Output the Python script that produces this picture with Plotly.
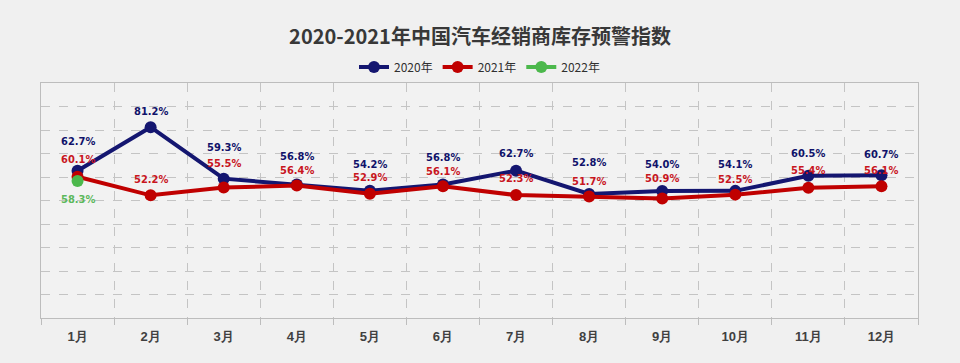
import plotly.graph_objects as go

months = ["1月", "2月", "3月", "4月", "5月", "6月", "7月", "8月", "9月", "10月", "11月", "12月"]
v2020 = [62.7, 81.2, 59.3, 56.8, 54.2, 56.8, 62.7, 52.8, 54.0, 54.1, 60.5, 60.7]
v2021 = [60.1, 52.2, 55.5, 56.4, 52.9, 56.1, 52.3, 51.7, 50.9, 52.5, 55.4, 56.1]
m2022 = ["1月"]
v2022 = [58.3]

# label lift above each marker (px), as placed in the reference
lift2020 = [29, 16, 31, 28, 26, 27, 17, 31, 27, 26, 22, 21]
lift2021 = [17, 16, 24, 15, 16, 15, 17, 15, 20, 15, 17, 16]
lift2022 = [-18]

c2020 = "#141670"
c2021 = "#c00000"
c2022 = "#4cb84c"
lab_font = "DejaVu Sans Condensed, Liberation Sans Narrow, sans-serif"

fig = go.Figure()


def add(name, x, y, color, lifts, tcolor):
    fig.add_trace(go.Scatter(
        x=x, y=y, name=name, mode="lines+markers",
        line=dict(color=color, width=4),
        marker=dict(color=color, size=12),
        cliponaxis=False,
    ))
    for xi, yi, dy in zip(x, y, lifts):
        fig.add_annotation(
            x=xi, y=yi, text=f"<b>{yi:.1f}%</b>", showarrow=False,
            yshift=dy, xanchor="center", yanchor="middle",
            font=dict(color=tcolor, size=11, family=lab_font),
        )


add("2020年", months, v2020, c2020, lift2020, "#10126a")
add("2021年", months, v2021, c2021, lift2021, "#c8161e")
add("2022年", m2022, v2022, c2022, lift2022, "#5cb85c")

fig.update_layout(
    width=960, height=363,
    margin=dict(l=41, r=42, t=83, b=45, autoexpand=False),
    paper_bgcolor="#f0f0f0",
    plot_bgcolor="#f2f2f2",
    title=dict(text="<b>2020-2021年中国汽车经销商库存预警指数</b>",
               x=0.5, xanchor="center", y=(363 - 37) / 363, yanchor="middle", yref="container",
               font=dict(family="Noto Sans CJK SC", size=20, color="#383838")),
    legend=dict(orientation="h", x=0.5, xanchor="center", yref="container",
                y=(363 - 67) / 363, yanchor="middle",
                font=dict(family="Noto Sans CJK SC", size=12, color="#303030"),
                itemwidth=30, traceorder="normal", bgcolor="rgba(0,0,0,0)"),
    showlegend=True,
)

fig.update_xaxes(
    type="category", tickson="boundaries",
    showgrid=True, gridcolor="#c4c4c4", griddash="dash", gridwidth=1,
    showline=True, linecolor="#bdbdbd", linewidth=1, mirror=True,
    ticks="outside", ticklen=6, tickcolor="#bdbdbd",
    ticklabelstandoff=6,
    tickfont=dict(family="Liberation Sans, Arial, sans-serif", size=13, color="#404040", weight="bold"),
    range=[-0.5, 11.5],
)
fig.update_yaxes(
    range=[0, 100], dtick=10, showticklabels=False,
    showgrid=True, gridcolor="#c4c4c4", griddash="dash", gridwidth=1,
    showline=True, linecolor="#bdbdbd", linewidth=1, mirror=True,
    zeroline=False,
)

fig.write_html(
    "out.html",
    config={"displayModeBar": False},
    post_script="document.body.style.margin='0';document.body.style.background='#f0f0f0';",
)
